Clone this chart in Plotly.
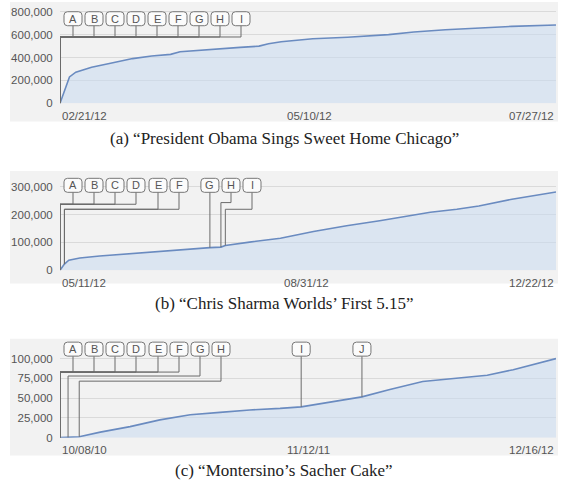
import pandas as pd
import plotly.graph_objects as go

W, H = 561, 498

# ---------------- data ----------------
A_DATES = ["2012-02-21", "2012-02-24", "2012-02-26", "2012-03-02", "2012-03-08", "2012-03-15",
           "2012-03-21", "2012-03-27", "2012-03-30", "2012-04-05", "2012-04-12", "2012-04-18",
           "2012-04-24", "2012-04-27", "2012-05-01", "2012-05-11", "2012-05-22", "2012-06-04",
           "2012-06-12", "2012-06-22", "2012-07-03", "2012-07-13", "2012-07-27"]
A_VIEWS = [0, 230000, 272000, 315000, 350000, 391000, 413000, 428000, 451000, 465000, 477000,
           489000, 500000, 521000, 539000, 564000, 578000, 601000, 624000, 644000, 659000,
           673000, 685000]

B_DATES = ["2012-05-11", "2012-05-13", "2012-05-15", "2012-05-20", "2012-05-29", "2012-06-12",
           "2012-06-25", "2012-07-09", "2012-07-18", "2012-07-23", "2012-07-25", "2012-08-05",
           "2012-08-19", "2012-09-03", "2012-09-18", "2012-10-03", "2012-10-18", "2012-10-26",
           "2012-11-07", "2012-11-17", "2012-12-02", "2012-12-22"]
B_VIEWS = [0, 22000, 36000, 44000, 51000, 60000, 68000, 75000, 81000, 83000, 89000, 101000,
           115000, 139000, 160000, 178000, 196000, 208000, 219000, 231000, 255000, 281000]

C_DATES = ["2010-10-08", "2010-10-21", "2010-11-08", "2010-12-12", "2011-01-29", "2011-03-18",
           "2011-05-06", "2011-06-23", "2011-08-10", "2011-09-28", "2011-11-01", "2012-02-07",
           "2012-03-23", "2012-05-15", "2012-07-09", "2012-08-27", "2012-10-08", "2012-12-16"]
C_VIEWS = [0, 300, 1200, 7000, 14000, 22500, 29000, 32000, 35000, 37000, 39000, 51600, 61000,
           71000, 75400, 79000, 86000, 100000]

A_YTICKS = [0, 200000, 400000, 600000, 800000]
B_YTICKS = [0, 100000, 200000, 300000]
C_YTICKS = [0, 25000, 50000, 75000, 100000]

A_XTICK_DATES = ["2012-02-21", "2012-05-10", "2012-07-27"]
A_XTICK_LABELS = ["02/21/12", "05/10/12", "07/27/12"]
B_XTICK_DATES = ["2012-05-11", "2012-08-31", "2012-12-22"]
B_XTICK_LABELS = ["05/11/12", "08/31/12", "12/22/12"]
C_XTICK_DATES = ["2010-10-08", "2011-11-12", "2012-12-16"]
C_XTICK_LABELS = ["10/08/10", "11/12/11", "12/16/12"]

A_LETTERS = ["A", "B", "C", "D", "E", "F", "G", "H", "I"]
A_TARGET_IDX = [0, 0, 0, 0, 0, 0, 0, 0, 0]
B_LETTERS = ["A", "B", "C", "D", "E", "F", "G", "H", "I"]
B_TARGET_IDX = [0, 0, 0, 0, 1, 1, 8, 9, 10]
C_LETTERS = ["A", "B", "C", "D", "E", "F", "G", "H", "I", "J"]
C_TARGET_IDX = [0, 0, 0, 0, 0, 0, 1, 2, 10, 11]

A_CAPTION = "(a) “President Obama Sings Sweet Home Chicago”"
B_CAPTION = "(b) “Chris Sharma Worlds’ First 5.15”"
C_CAPTION = "(c) “Montersino’s Sacher Cake”"

# ---------------- layout / style ----------------
X0PX, X1PX = 60, 556
PANEL_X0, PANEL_X1 = 10, 558

PANELS = [
    dict(dates=A_DATES, views=A_VIEWS, yticks=A_YTICKS, xtd=A_XTICK_DATES, xtl=A_XTICK_LABELS,
         letters=A_LETTERS, tidx=A_TARGET_IDX, caption=A_CAPTION,
         top_px=3, zero_px=104.5, ymax=878000, bg=(2, 123), cap_px=140,
         box_px=[73, 94, 115, 136, 157, 178, 199, 220, 241],
         bus=[580000] * 9, box_level=740000),
    dict(dates=B_DATES, views=B_VIEWS, yticks=B_YTICKS, xtd=B_XTICK_DATES, xtl=B_XTICK_LABELS,
         letters=B_LETTERS, tidx=B_TARGET_IDX, caption=B_CAPTION,
         top_px=173, zero_px=273.5, ymax=356800, bg=(173, 287), cap_px=307,
         box_px=[73, 94, 115, 136, 158, 179, None, 231, 252],
         bus=[237000] * 4 + [219000] * 2 + [None, 243000, 219000], box_level=305000),
    dict(dates=C_DATES, views=C_VIEWS, yticks=C_YTICKS, xtd=C_XTICK_DATES, xtl=C_XTICK_LABELS,
         letters=C_LETTERS, tidx=C_TARGET_IDX, caption=C_CAPTION,
         top_px=343, zero_px=443, ymax=125000, bg=(343, 461), cap_px=476,
         box_px=[73, 94, 115, 136, 158, 179, 200, 221, None, None],
         bus=[83000] * 6 + [78000, 71500, None, None], box_level=112000),
]

LINE_COLOR = "#6a8bc0"
FILL_COLOR = "rgba(200,218,240,0.55)"
GRID_COLOR = "#dadada"
PANEL_BG = "#f2f2f2"
LEADER = "#6b6b6b"
TICK_FONT = dict(family="Liberation Sans, Arial", size=11.5, color="#555555")
CAP_FONT = dict(family="Liberation Serif, Times New Roman", size=17, color="#222222")

BW, BH, BR = 9, 7, 3.5
BOX_PATH = (f"M{-BW+BR},{-BH} L{BW-BR},{-BH} Q{BW},{-BH} {BW},{-BH+BR} L{BW},{BH-BR} "
            f"Q{BW},{BH} {BW-BR},{BH} L{-BW+BR},{BH} Q{-BW},{BH} {-BW},{BH-BR} "
            f"L{-BW},{-BH+BR} Q{-BW},{-BH} {-BW+BR},{-BH} Z")


def px_to_date(start, end, px):
    frac = (px - X0PX) / (X1PX - X0PX)
    s, e = pd.Timestamp(start), pd.Timestamp(end)
    return (s + (e - s) * frac).strftime("%Y-%m-%d %H:%M:%S")


fig = go.Figure()
shapes, annots = [], []
layout_axes = {}

for i, p in enumerate(PANELS, start=1):
    xa = "x" if i == 1 else f"x{i}"
    ya = "y" if i == 1 else f"y{i}"
    xkey = "xaxis" if i == 1 else f"xaxis{i}"
    ykey = "yaxis" if i == 1 else f"yaxis{i}"

    # panel background
    shapes.append(dict(type="rect", xref="paper", yref="paper", layer="below",
                       x0=PANEL_X0 / W, x1=PANEL_X1 / W,
                       y0=1 - p["bg"][1] / H, y1=1 - p["bg"][0] / H,
                       fillcolor=PANEL_BG, line=dict(width=0)))

    fig.add_trace(go.Scatter(x=p["dates"], y=p["views"], mode="lines", xaxis=xa, yaxis=ya,
                             line=dict(color=LINE_COLOR, width=1.6), fill="tozeroy",
                             fillcolor=FILL_COLOR, hoverinfo="skip", showlegend=False))

    layout_axes[xkey] = dict(type="date", range=[p["dates"][0], p["dates"][-1]],
                             domain=[X0PX / W, X1PX / W], showgrid=False, zeroline=False,
                             showticklabels=False, showline=False, anchor=ya, fixedrange=True)
    layout_axes[ykey] = dict(range=[0, p["ymax"]],
                             domain=[1 - p["zero_px"] / H, 1 - p["top_px"] / H],
                             tickvals=p["yticks"], tickformat=",", showgrid=True,
                             gridcolor=GRID_COLOR, gridwidth=1, zeroline=False, showline=False,
                             ticks="outside", ticklen=4, tickcolor="rgba(0,0,0,0)",
                             tickfont=TICK_FONT, anchor=xa, fixedrange=True)

    # x tick labels
    for j, (d, lab) in enumerate(zip(p["xtd"], p["xtl"])):
        anchor = "left" if j == 0 else ("right" if j == len(p["xtd"]) - 1 else "center")
        annots.append(dict(x=d, y=0, xref=xa, yref=ya, text=lab, showarrow=False,
                           xanchor=anchor, yanchor="middle", yshift=-12.5, font=TICK_FONT))

    # caption
    annots.append(dict(x=284 / W, y=1 - p["cap_px"] / H, xref="paper", yref="paper",
                       text=p["caption"], showarrow=False, xanchor="center", yanchor="middle",
                       font=CAP_FONT))

    # markers
    start, end = p["dates"][0], p["dates"][-1]
    line_shapes, box_shapes = [], []
    for letter, ti, bpx, bus in zip(p["letters"], p["tidx"], p["box_px"], p["bus"]):
        tx, tv = p["dates"][ti], p["views"][ti]
        if bpx is None:
            bx = tx
            line_shapes.append(dict(type="line", xref=xa, yref=ya, x0=tx, x1=tx, y0=tv,
                                    y1=p["box_level"], line=dict(color=LEADER, width=1)))
        else:
            bx = px_to_date(start, end, bpx)
            line_shapes.append(dict(type="line", xref=xa, yref=ya, x0=bx, x1=bx, y0=bus,
                                    y1=p["box_level"], line=dict(color=LEADER, width=1)))
            line_shapes.append(dict(type="line", xref=xa, yref=ya, x0=tx, x1=bx, y0=bus,
                                    y1=bus, line=dict(color=LEADER, width=1)))
            line_shapes.append(dict(type="line", xref=xa, yref=ya, x0=tx, x1=tx, y0=tv,
                                    y1=bus, line=dict(color=LEADER, width=1)))
        box_shapes.append(dict(type="path", xref=xa, yref=ya, xsizemode="pixel",
                               ysizemode="pixel", xanchor=bx, yanchor=p["box_level"],
                               path=BOX_PATH, fillcolor="#fbfbfb",
                               line=dict(color="#777777", width=1)))
        annots.append(dict(x=bx, y=p["box_level"], xref=xa, yref=ya, text=letter,
                           showarrow=False, xanchor="center", yanchor="middle",
                           font=dict(family="Liberation Sans, Arial", size=11, color="#555555")))
    shapes.extend(line_shapes)
    shapes.extend(box_shapes)

fig.update_layout(width=W, height=H, autosize=False,
                  margin=dict(l=0, r=0, t=0, b=0, pad=0),
                  paper_bgcolor="white", plot_bgcolor="rgba(0,0,0,0)",
                  shapes=shapes, annotations=annots, showlegend=False, **layout_axes)

fig.write_html("out.html", config={"displayModeBar": False, "staticPlot": True},
               post_script="document.body.style.margin='0';")
